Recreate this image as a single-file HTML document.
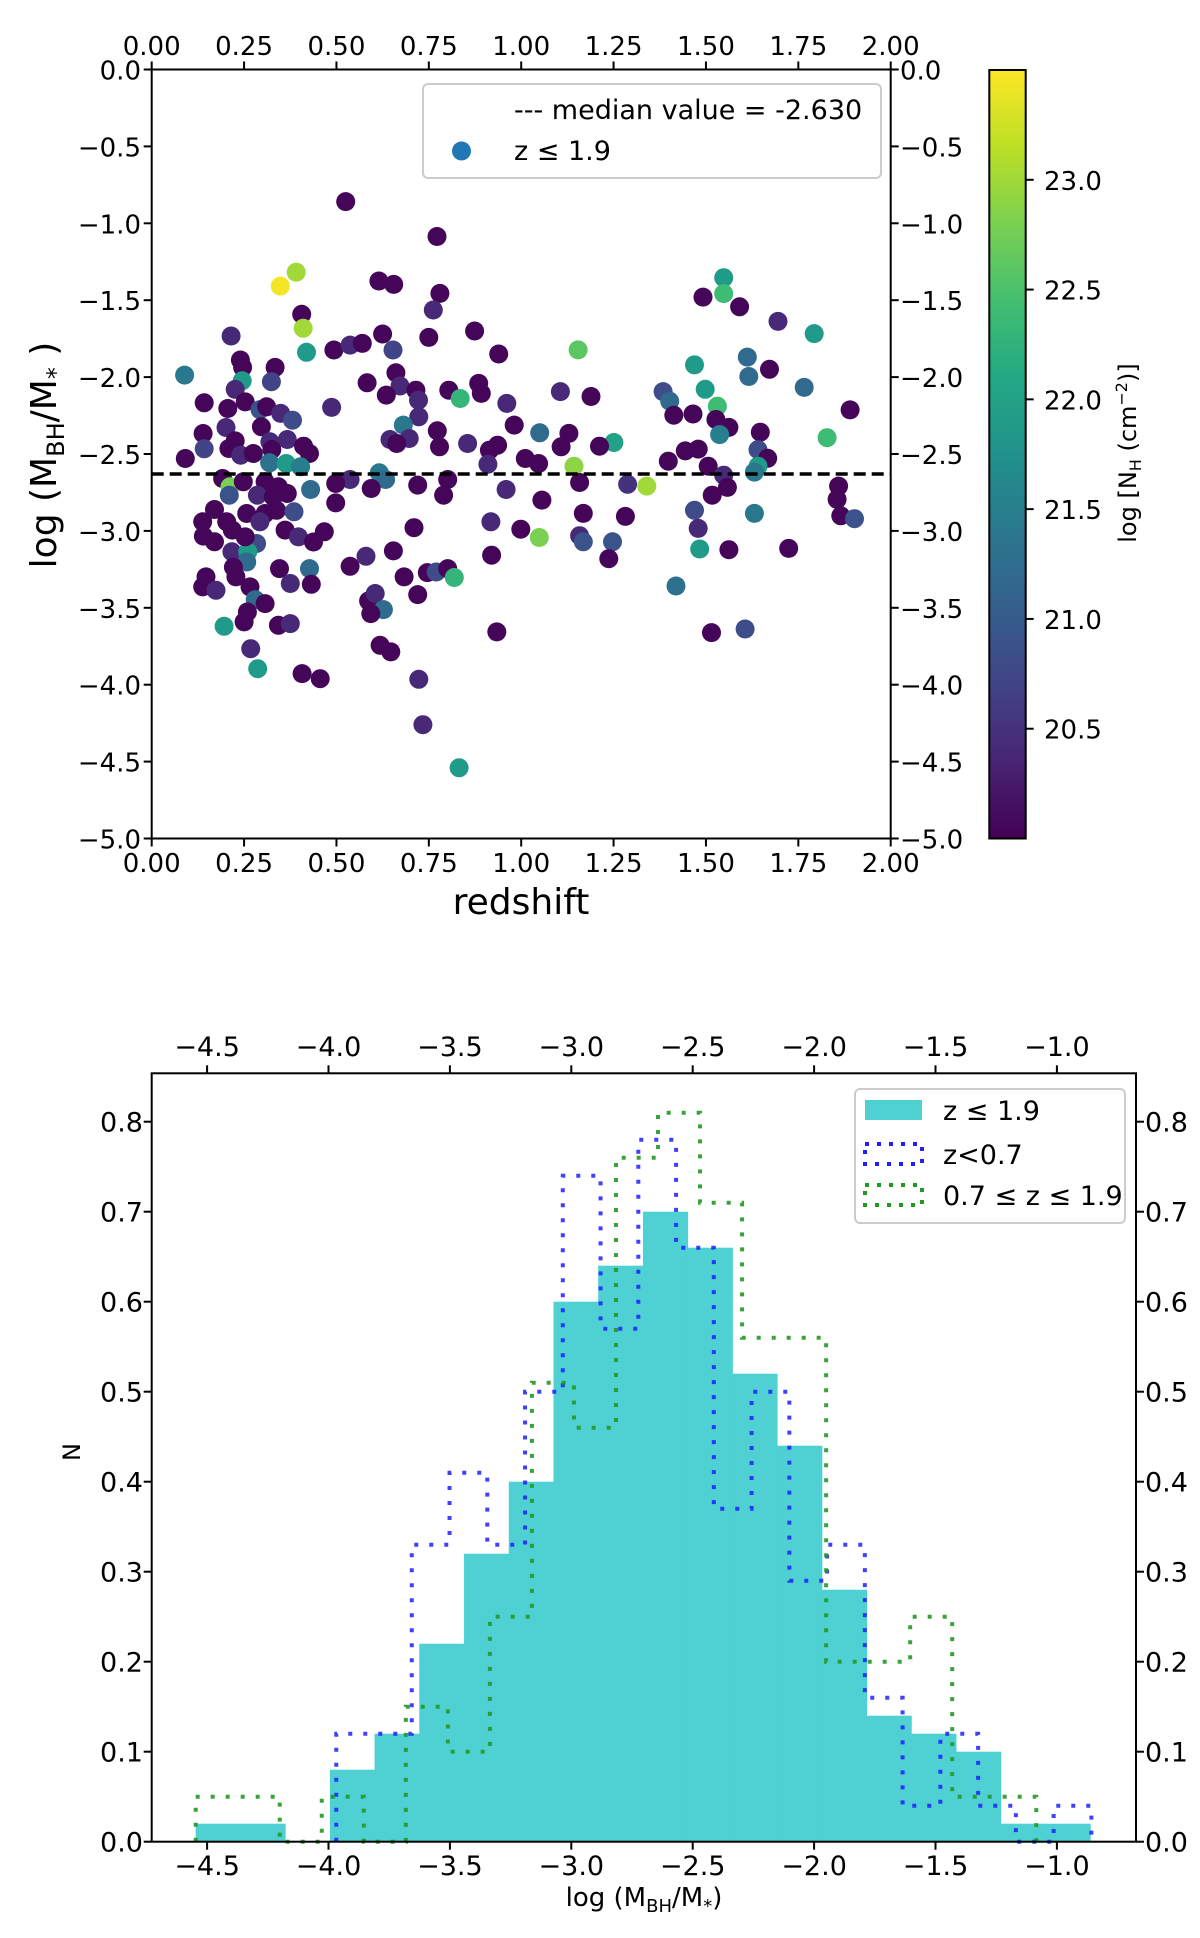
<!DOCTYPE html>
<html><head><meta charset="utf-8"><style>
html,body{margin:0;padding:0;background:#fff;}
svg{display:block;font-family:"DejaVu Sans","Liberation Sans",sans-serif;}
</style></head><body>
<svg id="fig" width="1200" height="1938" viewBox="0 0 1200 1938" xmlns="http://www.w3.org/2000/svg">
<defs>
<linearGradient id="vir" x1="0" y1="1" x2="0" y2="0">
<stop offset="0" stop-color="#440154"/><stop offset="0.1" stop-color="#482475"/><stop offset="0.2" stop-color="#414487"/><stop offset="0.3" stop-color="#355f8d"/><stop offset="0.4" stop-color="#2a788e"/><stop offset="0.5" stop-color="#21918c"/><stop offset="0.6" stop-color="#22a884"/><stop offset="0.7" stop-color="#44bf70"/><stop offset="0.8" stop-color="#7ad151"/><stop offset="0.9" stop-color="#bddf26"/><stop offset="1" stop-color="#fde725"/>
</linearGradient>
</defs>
<g id="scatter-panel"></g>
<g id="hist-panel"></g>
</svg>
<script>
// ---------- Scatter data ----------
const redshift = [0.525,0.772,0.391,0.348,0.406,0.410,0.215,0.419,0.089,0.240,0.246,0.334,0.245,0.324,0.226,0.142,0.206,0.253,0.293,0.311,0.349,0.381,0.201,0.297,0.139,0.142,0.091,0.226,0.209,0.241,0.275,0.320,0.367,0.325,0.411,0.427,0.319,0.364,0.403,0.487,0.493,0.537,0.570,0.615,0.655,0.780,0.762,0.625,0.653,0.750,0.874,0.939,0.661,0.583,0.672,0.715,0.635,0.722,0.804,0.835,0.885,0.892,0.961,0.723,0.681,0.981,1.050,0.773,0.645,0.697,0.663,0.779,0.855,0.936,0.914,1.011,1.047,0.910,0.616,0.633,0.537,0.498,0.594,0.720,0.801,0.790,0.959,1.056,0.498,0.192,0.212,0.210,0.248,0.307,0.343,0.367,0.430,0.286,0.170,0.138,0.140,0.170,0.218,0.257,0.307,0.338,0.385,0.293,0.361,0.397,0.438,0.467,0.284,0.217,0.260,0.257,0.221,0.228,0.147,0.138,0.174,0.346,0.375,0.427,0.432,0.537,0.580,0.654,0.710,0.918,0.999,1.049,0.920,0.683,0.746,0.770,0.801,0.819,0.720,0.587,0.605,0.627,0.593,0.266,0.280,0.307,0.259,0.250,0.196,0.343,0.375,0.268,0.287,0.407,0.456,0.618,0.647,0.723,0.934,0.253,0.203,0.329,
0.832,0.734,1.154,1.106,1.189,1.129,1.251,1.212,1.108,1.143,1.158,1.288,1.340,1.168,1.282,1.158,1.168,1.247,1.237,1.419,1.384,1.402,1.413,1.465,1.444,1.398,1.479,1.469,1.498,1.531,1.527,1.562,1.537,1.492,1.548,1.548,1.591,1.695,1.612,1.616,1.672,1.766,1.793,1.828,1.890,1.647,1.641,1.667,1.641,1.631,1.506,1.548,1.558,1.517,1.469,1.479,1.483,1.562,1.631,1.724,1.515,1.606,1.859,1.855,1.865,1.902];
const logRatio = [-0.859,-1.086,-1.318,-1.408,-1.592,-1.683,-1.733,-1.839,-1.987,-1.889,-1.937,-1.937,-2.024,-2.030,-2.080,-2.167,-2.204,-2.161,-2.211,-2.193,-2.236,-2.280,-2.328,-2.323,-2.367,-2.466,-2.529,-2.415,-2.464,-2.508,-2.497,-2.421,-2.406,-2.471,-2.449,-2.497,-2.557,-2.562,-2.583,-2.197,-1.824,-1.792,-1.781,-1.375,-1.397,-1.456,-1.564,-1.720,-1.824,-1.742,-1.700,-1.850,-1.972,-2.037,-2.058,-2.085,-2.117,-2.150,-2.085,-2.139,-2.041,-2.106,-2.171,-2.258,-2.312,-2.312,-2.362,-2.349,-2.406,-2.399,-2.432,-2.453,-2.432,-2.443,-2.475,-2.529,-2.562,-2.566,-2.622,-2.666,-2.666,-2.692,-2.724,-2.702,-2.666,-2.768,-2.731,-2.800,-2.818,-2.659,-2.713,-2.768,-2.681,-2.681,-2.713,-2.757,-2.731,-2.768,-2.861,-2.941,-3.034,-3.071,-2.995,-2.887,-2.887,-2.866,-2.876,-2.941,-2.995,-3.039,-3.072,-3.006,-3.082,-3.136,-3.136,-3.202,-3.236,-3.299,-3.299,-3.364,-3.386,-3.245,-3.342,-3.245,-3.347,-3.230,-3.165,-3.130,-2.979,-2.941,-2.989,-3.043,-3.158,-3.299,-3.271,-3.267,-3.245,-3.303,-3.414,-3.455,-3.407,-3.512,-3.538,-3.364,-3.447,-3.473,-3.527,-3.592,-3.620,-3.614,-3.603,-3.766,-3.896,-3.928,-3.961,-3.744,-3.787,-3.965,-3.657,-3.039,-2.941,-2.778,
-4.54,-4.26,-1.823,-2.094,-2.126,-2.366,-2.425,-2.449,-2.453,-2.579,-2.685,-2.697,-2.709,-2.886,-2.906,-3.031,-3.071,-3.071,-3.181,-3.358,-2.094,-2.157,-2.248,-2.240,-2.480,-2.547,-2.468,-1.921,-2.079,-2.189,-2.276,-2.327,-2.374,-1.480,-1.354,-1.457,-1.543,-1.638,-1.870,-1.996,-1.949,-2.067,-1.717,-2.394,-2.213,-2.358,-2.472,-2.528,-2.579,-2.618,-2.579,-2.638,-2.717,-2.768,-2.866,-2.984,-3.118,-3.122,-2.886,-3.114,-3.661,-3.638,-2.709,-2.795,-2.902,-2.921];
const logNH = [20.05,20.05,23.0,23.45,20.05,23.0,20.4,21.9,21.4,20.05,20.05,20.05,21.9,20.7,20.4,20.05,20.05,20.05,20.9,20.05,20.4,20.8,20.4,20.05,20.05,20.7,20.05,20.05,20.05,20.4,20.05,20.4,20.4,20.05,20.05,20.05,21.3,21.9,21.5,20.4,20.05,20.4,20.05,20.05,20.05,20.05,20.4,20.05,20.7,20.05,20.05,20.05,20.05,20.05,20.4,20.05,20.05,20.4,20.05,22.3,20.05,20.05,20.4,20.4,21.4,20.05,21.2,20.05,20.4,20.4,20.05,20.05,20.4,20.05,20.05,20.05,20.05,20.4,21.4,21.2,20.4,20.05,20.05,20.05,20.05,20.05,20.4,20.05,20.05,20.05,22.8,20.9,20.05,20.05,20.05,20.05,21.2,20.4,20.05,20.05,20.05,20.05,20.05,20.05,20.05,20.05,20.8,20.4,20.05,20.4,20.05,20.05,20.8,20.4,21.9,21.2,20.05,20.05,20.05,20.05,20.4,20.05,20.4,21.2,20.05,20.05,20.4,20.05,20.05,20.4,20.05,22.8,20.05,20.05,20.05,20.8,20.05,22.3,20.05,20.05,20.4,21.2,20.05,20.05,21.2,20.05,20.05,20.05,21.9,20.05,20.4,20.4,21.9,20.05,20.05,20.05,20.05,20.4,20.05,20.05,20.05,20.05,
21.9,20.4,22.6,20.4,20.05,20.05,22.0,20.05,20.05,22.9,20.05,20.5,23.0,20.05,20.05,20.4,20.9,20.9,20.05,21.3,20.8,21.2,20.05,20.05,20.05,20.05,20.05,21.9,21.9,22.4,20.05,20.05,21.5,20.05,21.9,22.4,20.05,20.4,21.2,21.2,20.05,21.2,21.9,22.4,20.05,20.05,20.8,20.05,21.9,21.4,20.05,20.4,20.05,20.05,20.8,20.4,21.9,20.05,21.4,20.05,20.05,20.8,20.05,20.05,20.05,20.9];
const medianValue = -2.63;
const xTicksTop = [0,0.25,0.5,0.75,1.0,1.25,1.5,1.75,2.0];
const xTickLabelsTop = ["0.00","0.25","0.50","0.75","1.00","1.25","1.50","1.75","2.00"];
const yTicksTop = [0,-0.5,-1,-1.5,-2,-2.5,-3,-3.5,-4,-4.5,-5];
const yTickLabelsTop = ["0.0","\u22120.5","\u22121.0","\u22121.5","\u22122.0","\u22122.5","\u22123.0","\u22123.5","\u22124.0","\u22124.5","\u22125.0"];
const cbTicks = [20.5,21.0,21.5,22.0,22.5,23.0];
const cbTickLabels = ["20.5","21.0","21.5","22.0","22.5","23.0"];

// ---------- Histogram data ----------
const allStart = -4.547, allWidth = 0.1842;
const allCounts = [0.02,0.02,0,0.08,0.12,0.22,0.32,0.40,0.60,0.64,0.70,0.66,0.52,0.44,0.28,0.14,0.12,0.10,0.02,0.02];
const lowStart = -3.968, lowWidth = 0.1555;
const lowCounts = [0.12,0.12,0.33,0.41,0.33,0.50,0.74,0.57,0.78,0.66,0.37,0.50,0.29,0.33,0.16,0.04,0.12,0.04,0.0,0.04];
const highStart = -4.547, highWidth = 0.1731;
const highCounts = [0.05,0.05,0,0.05,0,0.15,0.10,0.25,0.51,0.46,0.76,0.81,0.71,0.56,0.56,0.20,0.20,0.25,0.05,0.05];
const hxTicks = [-4.5,-4.0,-3.5,-3.0,-2.5,-2.0,-1.5,-1.0];
const hxTickLabels = ["\u22124.5","\u22124.0","\u22123.5","\u22123.0","\u22122.5","\u22122.0","\u22121.5","\u22121.0"];
const hyTicks = [0,0.1,0.2,0.3,0.4,0.5,0.6,0.7,0.8];
const hyTickLabels = ["0.0","0.1","0.2","0.3","0.4","0.5","0.6","0.7","0.8"];

const NS = "http://www.w3.org/2000/svg";
function mk(tag, attrs, parent, txt){
  const e = document.createElementNS(NS, tag);
  for (const k in attrs) e.setAttribute(k, attrs[k]);
  if (txt !== undefined) e.textContent = txt;
  parent.appendChild(e);
  return e;
}
const vir = [[0,68,1,84],[0.1,72,36,117],[0.2,65,68,135],[0.3,53,95,141],[0.4,42,120,142],[0.5,33,145,140],[0.6,34,168,132],[0.7,68,191,112],[0.8,122,209,81],[0.9,189,223,38],[1,253,231,37]];
function viridis(t){
  t = Math.max(0, Math.min(1, t));
  for (let i=0;i<vir.length-1;i++){
    const a=vir[i], b=vir[i+1];
    if (t<=b[0]){ const f=(t-a[0])/(b[0]-a[0]);
      return `rgb(${Math.round(a[1]+f*(b[1]-a[1]))},${Math.round(a[2]+f*(b[2]-a[2]))},${Math.round(a[3]+f*(b[3]-a[3]))})`; }
  }
  return "rgb(253,231,37)";
}

// ---------- Scatter panel ----------
const sp = document.getElementById('scatter-panel');
const L=151.7, R=890.7, T=69.5, B=838.5;
const xs = z => L + (z-0)/2*(R-L);
const ys = v => T + (0 - v)/5*(B-T);
const nhMin=20.0, nhMax=23.5;
const CB={x0:989.3,x1:1025.7,y0:70,y1:838.5};
const cy = n => CB.y0 + (nhMax-n)/(nhMax-nhMin)*(CB.y1-CB.y0);

for (let i=0;i<redshift.length;i++){
  const c = mk('circle',{cx:xs(redshift[i]).toFixed(1),cy:ys(logRatio[i]).toFixed(1),r:9.5,fill:viridis((logNH[i]-nhMin)/(nhMax-nhMin))},sp);
  
  
}
const med = mk('line',{x1:L,x2:R,y1:ys(medianValue),y2:ys(medianValue),stroke:'#000','stroke-width':3.5,'stroke-dasharray':'12 6'},sp);



const frame = mk('rect',{x:L,y:T,width:R-L,height:B-T,fill:'none',stroke:'#000','stroke-width':2},sp);



xTicksTop.forEach((t,i)=>{
  const x=xs(t);
  const tb=mk('line',{x1:x,x2:x,y1:B,y2:B+8,stroke:'#000','stroke-width':2},sp);
  
  
  const tt=mk('line',{x1:x,x2:x,y1:T,y2:T-8,stroke:'#000','stroke-width':2},sp);
  
  
  const lb=mk('text',{x:x,y:872,'font-size':26,'text-anchor':'middle'},sp,xTickLabelsTop[i]);
  
  
  const lt=mk('text',{x:x,y:55,'font-size':26,'text-anchor':'middle'},sp,xTickLabelsTop[i]);
  
  
});
yTicksTop.forEach((t,i)=>{
  const y=ys(t);
  const tl=mk('line',{x1:L,x2:L-8,y1:y,y2:y,stroke:'#000','stroke-width':2},sp);
  
  
  const tr=mk('line',{x1:R,x2:R+8,y1:y,y2:y,stroke:'#000','stroke-width':2},sp);
  
  
  const ll=mk('text',{x:141,y:y+10,'font-size':26,'text-anchor':'end'},sp,yTickLabelsTop[i]);
  
  
  const lr=mk('text',{x:900,y:y+10,'font-size':26,'text-anchor':'start'},sp,yTickLabelsTop[i]);
  
  
});
const xl=mk('text',{x:521,y:914,'font-size':36,'text-anchor':'middle'},sp,'redshift');


const yl=mk('text',{x:0,y:0,'font-size':36,'text-anchor':'middle',transform:'translate(56,455) rotate(-90)'},sp);


yl.innerHTML='log (M<tspan font-size="24" dy="8">BH</tspan><tspan dy="-8">/M</tspan><tspan font-size="24" dy="8">*</tspan><tspan dy="-8"> )</tspan>';

// legend
const lg=mk('rect',{x:423,y:84,width:458,height:94,rx:5,fill:'#fff','fill-opacity':0.8,stroke:'#cccccc','stroke-width':2},sp);


const lt1=mk('text',{x:514,y:119,'font-size':27},sp,'--- median value = -2.630');


const lm=mk('circle',{cx:461.5,cy:151,r:9.5,fill:'#1f77b4'},sp);


const lt2=mk('text',{x:514,y:160,'font-size':27},sp,'z \u2264 1.9');



// colorbar
const cb=mk('rect',{x:CB.x0,y:CB.y0,width:CB.x1-CB.x0,height:CB.y1-CB.y0,fill:'url(#vir)',stroke:'#000','stroke-width':2},sp);


cbTicks.forEach((t,i)=>{
  const y=cy(t);
  const tk=mk('line',{x1:CB.x1,x2:CB.x1+8,y1:y,y2:y,stroke:'#000','stroke-width':2},sp);
  
  
  const tl=mk('text',{x:1044,y:y+10,'font-size':26},sp,cbTickLabels[i]);
  
  
});
const cbl=mk('text',{x:0,y:0,'font-size':24,'text-anchor':'middle',transform:'translate(1136,453) rotate(-90)'},sp);


cbl.innerHTML='log [N<tspan font-size="16" dy="5">H</tspan><tspan dy="-5"> (cm</tspan><tspan font-size="16" dy="-9">\u22122</tspan><tspan dy="9">)]</tspan>';

// ---------- Histogram panel ----------
const hp=document.getElementById('hist-panel');
const HL=151.7, HR=1136, HT=1073.3, HB=1841.7;
const hx = v => 207.1 + (v+4.5)*242.8;
const hy = n => HB - n*900;

allCounts.forEach((c,i)=>{
  if (c<=0) return;
  const x0=hx(allStart+i*allWidth), x1=hx(allStart+(i+1)*allWidth);
  const r=mk('rect',{x:x0,y:hy(c),width:x1-x0+0.5,height:HB-hy(c),fill:'#4fd1d3'},hp);
  
  
});
function stepPath(start,width,counts){
  let d=`M${hx(start)},${HB}`;
  counts.forEach((c,i)=>{ d+=` L${hx(start+i*width)},${hy(c)} L${hx(start+(i+1)*width)},${hy(c)}`; });
  d+=` L${hx(start+counts.length*width)},${HB}`;
  return d;
}
const pl=mk('path',{d:stepPath(lowStart,lowWidth,lowCounts),fill:'none',stroke:'#1f1fff','stroke-opacity':0.85,'stroke-width':4,'stroke-dasharray':'4 11'},hp);


const ph=mk('path',{d:stepPath(highStart,highWidth,highCounts),fill:'none',stroke:'#229922','stroke-opacity':0.9,'stroke-width':4,'stroke-dasharray':'4 11'},hp);



const hf=mk('rect',{x:HL,y:HT,width:HR-HL,height:HB-HT,fill:'none',stroke:'#000','stroke-width':2},hp);


hxTicks.forEach((t,i)=>{
  const x=hx(t);
  const a=mk('line',{x1:x,x2:x,y1:HB,y2:HB+8,stroke:'#000','stroke-width':2},hp);
  
  
  const b=mk('line',{x1:x,x2:x,y1:HT,y2:HT-8,stroke:'#000','stroke-width':2},hp);
  
  
  const c=mk('text',{x:x,y:1875,'font-size':27,'text-anchor':'middle'},hp,hxTickLabels[i]);
  
  
  const d=mk('text',{x:x,y:1056,'font-size':27,'text-anchor':'middle'},hp,hxTickLabels[i]);
  
  
});
hyTicks.forEach((t,i)=>{
  const y=hy(t);
  const a=mk('line',{x1:HL,x2:HL-8,y1:y,y2:y,stroke:'#000','stroke-width':2},hp);
  
  
  const b=mk('line',{x1:HR,x2:HR+8,y1:y,y2:y,stroke:'#000','stroke-width':2},hp);
  
  
  const c=mk('text',{x:143,y:y+10,'font-size':27,'text-anchor':'end'},hp,hyTickLabels[i]);
  
  
  const d=mk('text',{x:1145,y:y+10,'font-size':27},hp,hyTickLabels[i]);
  
  
});
const hxl=mk('text',{x:644,y:1906,'font-size':26,'text-anchor':'middle'},hp);


hxl.innerHTML='log (M<tspan font-size="18" dy="6">BH</tspan><tspan dy="-6">/M</tspan><tspan font-size="18" dy="6">*</tspan><tspan dy="-6">)</tspan>';
const hyl=mk('text',{x:0,y:0,'font-size':24,'text-anchor':'middle',transform:'translate(80,1452) rotate(-90)'},hp,'N');



const hlg=mk('rect',{x:855,y:1089,width:270,height:134,rx:5,fill:'#fff','fill-opacity':0.8,stroke:'#cccccc','stroke-width':2},hp);


const p1=mk('rect',{x:865,y:1100,width:57,height:20,fill:'#4fd1d3'},hp);


const t1=mk('text',{x:943,y:1120,'font-size':27},hp,'z \u2264 1.9');


const p2=mk('rect',{x:865,y:1144,width:57,height:20,fill:'none',stroke:'#1f1fff','stroke-width':4,'stroke-dasharray':'4 8'},hp);


const t2=mk('text',{x:943,y:1164,'font-size':27},hp,'z<0.7');


const p3=mk('rect',{x:865,y:1185,width:57,height:20,fill:'none',stroke:'#229922','stroke-width':4,'stroke-dasharray':'4 8'},hp);


const t3=mk('text',{x:943,y:1205,'font-size':27},hp,'0.7 \u2264 z \u2264 1.9');


</script>
</body></html>
